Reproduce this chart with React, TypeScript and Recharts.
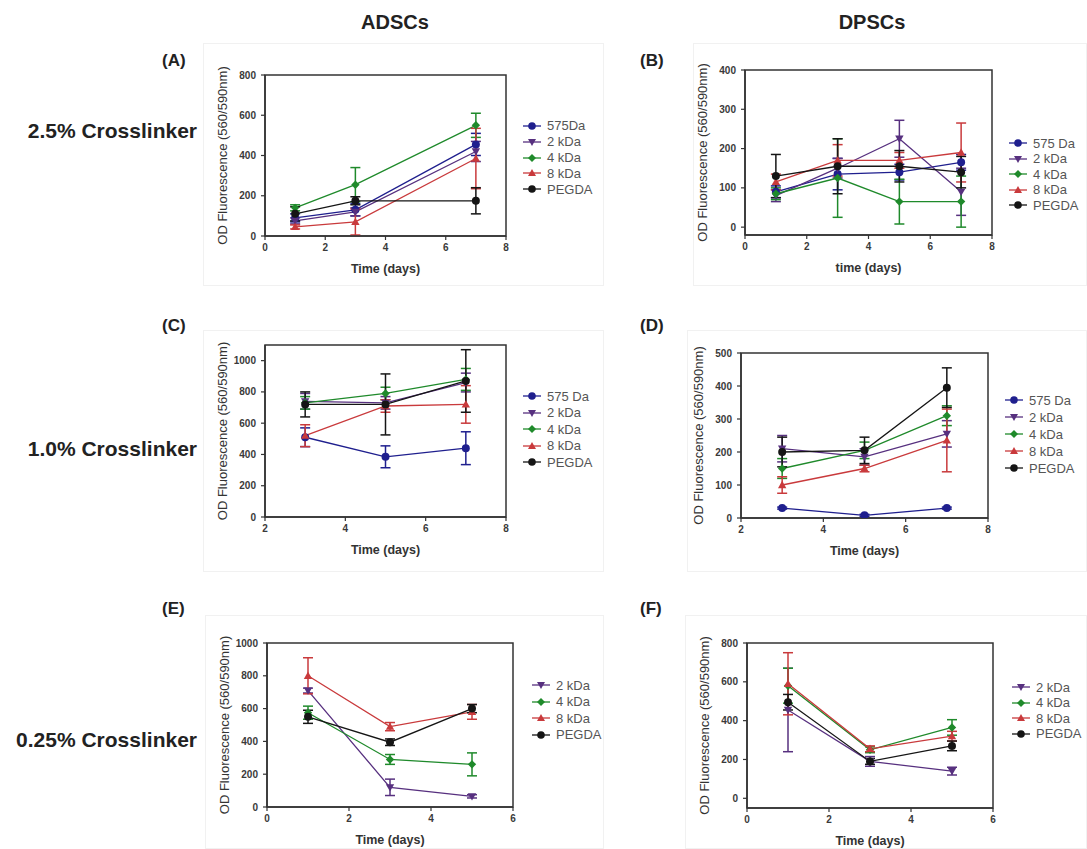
import React from 'react';
import { LineChart, Line, XAxis, YAxis, ErrorBar, ReferenceArea, Legend } from 'recharts';

// ---------- Data ----------
const SERIES_KEYS = ['s575', 's2', 's4', 's8', 'peg'];

// Panel A – ADSCs, 2.5% crosslinker
const daysA = [1, 3, 7];
const a575 = [90, 130, 455];
const a575Err = [20, 30, 55];
const a2 = [75, 120, 420];
const a2Err = [15, 20, 50];
const a4 = [140, 255, 550];
const a4Err = [15, 85, 60];
const a8 = [45, 70, 385];
const a8Err = [10, 65, 150];
const aPeg = [110, 175, 175];
const aPegErr = [35, 20, 65];

// Panel B – DPSCs, 2.5% crosslinker
const daysB = [1, 3, 5, 7];
const b575 = [90, 135, 140, 165];
const b575Err = [15, 40, 20, 20];
const b2 = [80, 150, 225, 90];
const b2Err = [15, 25, 47, 60];
const b4 = [85, 125, 65, 65];
const b4Err = [15, 100, 57, 65];
const b8 = [115, 170, 170, 190];
const b8Err = [20, 40, 20, 75];
const bPeg = [130, 155, 155, 140];
const bPegErr = [55, 70, 40, 40];

// Panel C – ADSCs, 1.0% crosslinker
const daysC = [3, 5, 7];
const c575 = [510, 385, 440];
const c575Err = [60, 70, 105];
const c2 = [740, 730, 860];
const c2Err = [50, 40, 60];
const c4 = [730, 790, 880];
const c4Err = [40, 40, 70];
const c8 = [520, 710, 720];
const c8Err = [70, 40, 120];
const cPeg = [720, 720, 870];
const cPegErr = [80, 195, 200];

// Panel D – DPSCs, 1.0% crosslinker
const daysD = [3, 5, 7];
const d575 = [30, 8, 30];
const d575Err = [3, 3, 3];
const d2 = [210, 185, 255];
const d2Err = [40, 25, 40];
const d4 = [150, 205, 310];
const d4Err = [30, 25, 30];
const d8 = [100, 150, 235];
const d8Err = [25, 10, 95];
const dPeg = [200, 205, 395];
const dPegErr = [45, 40, 60];

// Panel E – ADSCs, 0.25% crosslinker
const daysE = [1, 3, 5];
const e2 = [710, 120, 65];
const e2Err = [15, 50, 10];
const e4 = [575, 290, 260];
const e4Err = [40, 30, 70];
const e8 = [800, 490, 580];
const e8Err = [110, 25, 45];
const ePeg = [550, 395, 600];
const ePegErr = [40, 20, 25];

// Panel F – DPSCs, 0.25% crosslinker
const daysF = [1, 3, 5];
const f2 = [455, 190, 140];
const f2Err = [215, 25, 20];
const f4 = [580, 250, 365];
const f4Err = [90, 15, 40];
const f8 = [590, 255, 320];
const f8Err = [160, 15, 25];
const fPeg = [495, 190, 270];
const fPegErr = [40, 15, 25];

const namesA = ['575Da', '2 kDa', '4 kDa', '8 kDa', 'PEGDA'];
const namesFull = ['575 Da', '2 kDa', '4 kDa', '8 kDa', 'PEGDA'];
const namesNo575 = ['2 kDa', '4 kDa', '8 kDa', 'PEGDA'];

const xTicks08 = [0, 2, 4, 6, 8];
const xTicks28 = [2, 4, 6, 8];
const xTicks06 = [0, 2, 4, 6];
const yTicksA = [0, 200, 400, 600, 800];
const yTicksB = [0, 100, 200, 300, 400];
const yTicksC = [0, 200, 400, 600, 800, 1000];
const yTicksD = [0, 100, 200, 300, 400, 500];
const yTicksE = [0, 200, 400, 600, 800, 1000];
const yTicksF = [0, 200, 400, 600, 800];

// ---------- Styles ----------
const STYLE: Record<string, { color: string; shape: string }> = {
  s575: { color: '#1f1f8e', shape: 'circle' },
  s2: { color: '#57307f', shape: 'down' },
  s4: { color: '#1f8a2b', shape: 'diamond' },
  s8: { color: '#c93a3c', shape: 'up' },
  peg: { color: '#151515', shape: 'circle' },
};

const FONT = "'Liberation Sans', Arial, sans-serif";

function Marker({ shape, cx, cy, color, s = 4.2 }: any) {
  if (cx == null || cy == null || isNaN(cx) || isNaN(cy)) return null;
  if (shape === 'circle') return <circle cx={cx} cy={cy} r={s * 0.95} fill={color} />;
  if (shape === 'down')
    return <path d={`M${cx - s},${cy - s * 0.75} L${cx + s},${cy - s * 0.75} L${cx},${cy + s} Z`} fill={color} />;
  if (shape === 'up')
    return <path d={`M${cx - s},${cy + s * 0.75} L${cx + s},${cy + s * 0.75} L${cx},${cy - s} Z`} fill={color} />;
  return <path d={`M${cx},${cy - s} L${cx + s},${cy} L${cx},${cy + s} L${cx - s},${cy} Z`} fill={color} />;
}

type SeriesIn = { key: string; name: string; vals: number[]; errs: number[] };

function buildRows(days: number[], series: SeriesIn[]) {
  return days.map((d, i) => {
    const r: any = { day: d };
    series.forEach((s) => {
      r[s.key] = s.vals[i];
      r[s.key + 'Err'] = s.errs[i];
    });
    return r;
  });
}

type PanelProps = {
  days: number[];
  series: SeriesIn[];
  box: [number, number, number, number]; // plot x0,y0,x1,y1
  xDomain: [number, number];
  yDomain: [number, number];
  xTicks: number[];
  yTicks: number[];
  xLabel: string;
  legendX: number;
  legendY: number; // center of first row (page coords)
  legendStep: number;
};

const ML = 10;
const YW = 50;
const MT = 10;
const MR = 140;
const XH = 42;
const MB = 4;

function Panel(p: PanelProps) {
  const [x0, y0, x1, y1] = p.box;
  const left = x0 - ML - YW;
  const top = y0 - MT;
  const width = ML + YW + (x1 - x0) + MR;
  const height = MT + (y1 - y0) + XH + MB;
  const rows = buildRows(p.days, p.series);
  const tickStyle = { fontSize: 10, fontWeight: 700, fill: '#3a3a3a', fontFamily: FONT };

  const legendContent = (props: any) => {
    const payload = [...(props.payload || [])].sort(
      (a: any, b: any) => SERIES_KEYS.indexOf(a.dataKey) - SERIES_KEYS.indexOf(b.dataKey)
    );
    return (
      <div style={{ fontFamily: FONT, fontSize: 13, color: '#555' }}>
        {payload.map((e: any) => {
          const st = STYLE[e.dataKey];
          return (
            <div key={e.dataKey} style={{ display: 'flex', alignItems: 'center', height: p.legendStep, whiteSpace: 'nowrap' }}>
              <svg width={20} height={10} style={{ marginRight: 5 }}>
                <line x1={1} y1={5} x2={19} y2={5} stroke={st.color} strokeWidth={1.3} />
                <Marker shape={st.shape} cx={10} cy={5} color={st.color} s={4} />
              </svg>
              <span>{e.value}</span>
            </div>
          );
        })}
      </div>
    );
  };

  return (
    <div style={{ position: 'absolute', left, top, width, height }}>
      <LineChart width={width} height={height} data={rows} margin={{ top: MT, right: MR, bottom: MB, left: ML }}>
        <XAxis
          dataKey="day"
          type="number"
          domain={p.xDomain}
          ticks={p.xTicks}
          allowDataOverflow
          height={XH}
          tick={tickStyle}
          tickSize={4}
          tickMargin={4}
          axisLine={{ stroke: '#333', strokeWidth: 1.5 }}
          tickLine={{ stroke: '#333', strokeWidth: 1.2 }}
          label={{
            value: p.xLabel,
            position: 'insideBottom',
            offset: 5,
            style: { fontSize: 12.5, fontWeight: 700, fill: '#333', fontFamily: FONT },
          }}
        />
        <YAxis
          type="number"
          domain={p.yDomain}
          ticks={p.yTicks}
          allowDataOverflow
          width={YW}
          tick={tickStyle}
          tickSize={4}
          tickMargin={5}
          axisLine={{ stroke: '#333', strokeWidth: 1.5 }}
          tickLine={{ stroke: '#333', strokeWidth: 1.2 }}
          label={{
            value: 'OD Fluorescence (560/590nm)',
            angle: -90,
            position: 'insideLeft',
            offset: 7,
            style: { textAnchor: 'middle', fontSize: 13, fill: '#333', fontFamily: FONT },
          }}
        />
        <ReferenceArea
          x1={p.xDomain[0]}
          x2={p.xDomain[1]}
          y1={p.yDomain[0]}
          y2={p.yDomain[1]}
          fill="none"
          fillOpacity={0}
          stroke="#333"
          strokeWidth={1.5}
          ifOverflow="visible"
        />
        {p.series.map((s) => {
          const st = STYLE[s.key];
          return (
            <Line
              key={s.key}
              dataKey={s.key}
              name={s.name}
              stroke={st.color}
              strokeWidth={1.3}
              isAnimationActive={false}
              dot={(d: any) => (
                <g key={`${s.key}-dot-${d.index}`}>
                  <Marker shape={st.shape} cx={d.cx} cy={d.cy} color={st.color} />
                </g>
              )}
              activeDot={false}
            >
              <ErrorBar dataKey={s.key + 'Err'} width={5} stroke={st.color} strokeWidth={1.5} direction="y" />
            </Line>
          );
        })}
        <Legend
          layout="vertical"
          align="center"
          verticalAlign="middle"
          content={legendContent}
          wrapperStyle={{
            left: p.legendX - left,
            top: p.legendY - top - p.legendStep / 2,
            width: 'auto',
          }}
        />
      </LineChart>
    </div>
  );
}

const mk = (keys: string[], names: string[], vals: number[][], errs: number[][]): SeriesIn[] =>
  keys.map((k, i) => ({ key: k, name: names[i], vals: vals[i], errs: errs[i] }));

const seriesA = mk(SERIES_KEYS, namesA, [a575, a2, a4, a8, aPeg], [a575Err, a2Err, a4Err, a8Err, aPegErr]);
const seriesB = mk(SERIES_KEYS, namesFull, [b575, b2, b4, b8, bPeg], [b575Err, b2Err, b4Err, b8Err, bPegErr]);
const seriesC = mk(SERIES_KEYS, namesFull, [c575, c2, c4, c8, cPeg], [c575Err, c2Err, c4Err, c8Err, cPegErr]);
const seriesD = mk(SERIES_KEYS, namesFull, [d575, d2, d4, d8, dPeg], [d575Err, d2Err, d4Err, d8Err, dPegErr]);
const seriesE = mk(SERIES_KEYS.slice(1), namesNo575, [e2, e4, e8, ePeg], [e2Err, e4Err, e8Err, ePegErr]);
const seriesF = mk(SERIES_KEYS.slice(1), namesNo575, [f2, f4, f8, fPeg], [f2Err, f4Err, f8Err, fPegErr]);

const textBase: React.CSSProperties = {
  position: 'absolute',
  fontFamily: FONT,
  fontWeight: 700,
  color: '#222',
  whiteSpace: 'nowrap',
  lineHeight: 1,
};

function PanelBox({ l, t, r, b }: { l: number; t: number; r: number; b: number }) {
  return <div style={{ position: 'absolute', left: l, top: t, width: r - l, height: b - t, border: '1px solid #f1f1f1', boxSizing: 'border-box' }} />;
}

export default function App() {
  return (
    <div style={{ position: 'absolute', left: 0, top: 0, width: 1087, height: 849, background: '#fff', overflow: 'hidden' }}>
      <PanelBox l={203} t={43} r={604} b={286} />
      <PanelBox l={693} t={43} r={1087} b={286} />
      <PanelBox l={203} t={330} r={604} b={572} />
      <PanelBox l={687} t={330} r={1087} b={572} />
      <PanelBox l={205} t={615} r={604} b={849} />
      <PanelBox l={685} t={615} r={1087} b={849} />

      <div style={{ ...textBase, fontSize: 20, left: 395, top: 22, transform: 'translate(-50%,-50%)' }}>ADSCs</div>
      <div style={{ ...textBase, fontSize: 20, left: 872, top: 22, transform: 'translate(-50%,-50%)' }}>DPSCs</div>

      <div style={{ ...textBase, fontSize: 17, left: 162, top: 60, transform: 'translateY(-50%)' }}>(A)</div>
      <div style={{ ...textBase, fontSize: 17, left: 640, top: 60, transform: 'translateY(-50%)' }}>(B)</div>
      <div style={{ ...textBase, fontSize: 17, left: 162, top: 325, transform: 'translateY(-50%)' }}>(C)</div>
      <div style={{ ...textBase, fontSize: 17, left: 640, top: 325, transform: 'translateY(-50%)' }}>(D)</div>
      <div style={{ ...textBase, fontSize: 17, left: 162, top: 608, transform: 'translateY(-50%)' }}>(E)</div>
      <div style={{ ...textBase, fontSize: 17, left: 640, top: 608, transform: 'translateY(-50%)' }}>(F)</div>

      <div style={{ ...textBase, fontSize: 21, right: 1087 - 197, top: 130, transform: 'translateY(-50%)' }}>2.5% Crosslinker</div>
      <div style={{ ...textBase, fontSize: 21, right: 1087 - 197, top: 448, transform: 'translateY(-50%)' }}>1.0% Crosslinker</div>
      <div style={{ ...textBase, fontSize: 21, right: 1087 - 197, top: 739, transform: 'translateY(-50%)' }}>0.25% Crosslinker</div>

      <Panel days={daysA} series={seriesA} box={[265, 75, 506, 236]} xDomain={[0, 8]} yDomain={[0, 800]}
        xTicks={xTicks08} yTicks={yTicksA} xLabel="Time (days)" legendX={522} legendY={126} legendStep={15.8} />
      <Panel days={daysB} series={seriesB} box={[745, 70, 992, 235]} xDomain={[0, 8]} yDomain={[-20, 400]}
        xTicks={xTicks08} yTicks={yTicksB} xLabel="time (days)" legendX={1008} legendY={143} legendStep={15.5} />
      <Panel days={daysC} series={seriesC} box={[265, 345, 506, 517]} xDomain={[2, 8]} yDomain={[0, 1100]}
        xTicks={xTicks28} yTicks={yTicksC} xLabel="Time (days)" legendX={522} legendY={396} legendStep={16.5} />
      <Panel days={daysD} series={seriesD} box={[741, 353, 988, 518]} xDomain={[2, 8]} yDomain={[0, 500]}
        xTicks={xTicks28} yTicks={yTicksD} xLabel="Time (days)" legendX={1004} legendY={400} legendStep={17} />
      <Panel days={daysE} series={seriesE} box={[267, 643, 513, 807]} xDomain={[0, 6]} yDomain={[0, 1000]}
        xTicks={xTicks06} yTicks={yTicksE} xLabel="Time (days)" legendX={531} legendY={685} legendStep={16.5} />
      <Panel days={daysF} series={seriesF} box={[747, 643, 993, 808]} xDomain={[0, 6]} yDomain={[-50, 800]}
        xTicks={xTicks06} yTicks={yTicksF} xLabel="Time (days)" legendX={1011} legendY={687} legendStep={15.5} />
    </div>
  );
}
